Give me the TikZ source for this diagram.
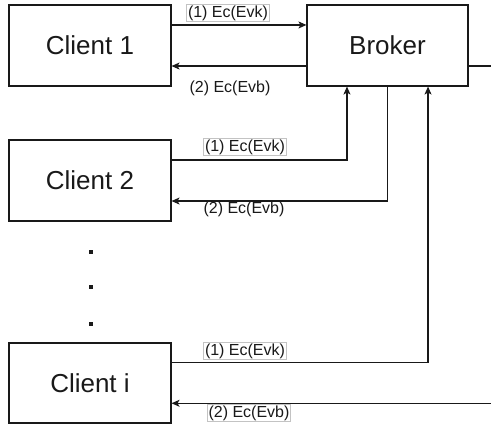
\documentclass[tikz,border=0pt]{standalone}
\usepackage{fontspec}
\setmainfont{Liberation Sans}
\usetikzlibrary{positioning, arrows.meta, calc}
\definecolor{LineColor}{RGB}{25,25,25}
\definecolor{FrameColor}{RGB}{195,195,195}
\tikzstyle{box} = [draw=LineColor, line width=1.1pt, minimum width=162pt, minimum height=81pt, inner sep=0pt, text=LineColor, font=\fontsize{26}{30}\selectfont]
\tikzstyle{arrow} = [line width=1.1pt, LineColor, -{Stealth[length=8pt,width=7pt,inset=2pt]}]
\tikzstyle{tag} = [font=\fontsize{16}{18}\selectfont, inner sep=1.3pt, text=LineColor]
\tikzstyle{framedtag} = [tag, draw=FrameColor, line width=0.6pt, fill=white]

\begin{document}
\begin{tikzpicture}[x=1pt, y=-1pt]
    \clip (0,0) rectangle (491,425);
    % clients and broker
    \node[box] (client1) at (90,45.5) {Client 1};
    \node[box] (client2) at (90,180.5) {Client 2};
    \node[box, minimum height=80pt] (clienti) at (90,383) {Client i};
    \node[box, minimum width=161pt] (broker) at (387.5,45.5) {Broker};
    % ports on the boxes
    \coordinate (c1a) at ($(client1.north east)!0.25!(client1.south east)$);
    \coordinate (c1b) at ($(client1.north east)!0.75!(client1.south east)$);
    \coordinate (c2a) at ($(client2.north east)!0.25!(client2.south east)$);
    \coordinate (c2b) at ($(client2.north east)!0.75!(client2.south east)$);
    \coordinate (cia) at ($(clienti.north east)!0.25!(clienti.south east)$);
    \coordinate (cib) at ($(clienti.north east)!0.75!(clienti.south east)$);
    \coordinate (bk1) at ($(broker.south west)!0.25!(broker.south east)$);
    \coordinate (bk2) at ($(broker.south west)!0.5!(broker.south east)$);
    \coordinate (bk3) at ($(broker.south west)!0.75!(broker.south east)$);
    \coordinate (bke) at ($(broker.north east)!0.75!(broker.south east)$);
    % messages
    \draw[arrow] (c1a) -- (c1a -| broker.west);
    \draw[arrow] (c1b -| broker.west) -- (c1b);
    \draw[arrow] (c2a) -| (bk1);
    \draw[arrow] (bk2) |- (c2b);
    \draw[arrow] (cia) -| (bk3);
    \draw[arrow] (bke) -- ++(40,0) |- (cib);
    % labels
    \node[framedtag] (m1top) at (228,13) {(1) Ec(Evk)};
    \node[tag] (m2top) at (230,88) {(2) Ec(Evb)};
    \node[framedtag] (m1mid) at (245,147) {(1) Ec(Evk)};
    \node[tag] (m2mid) at (244,209) {(2) Ec(Evb)};
    \node[framedtag] (m1bot) at (245,351) {(1) Ec(Evk)};
    \node[framedtag] (m2bot) at (249,413) {(2) Ec(Evb)};
    % dots between the clients
    \foreach \y in {252,287,324}
        \fill[LineColor] (89,\y-2) rectangle (93,\y+2);
\end{tikzpicture}
\end{document}
